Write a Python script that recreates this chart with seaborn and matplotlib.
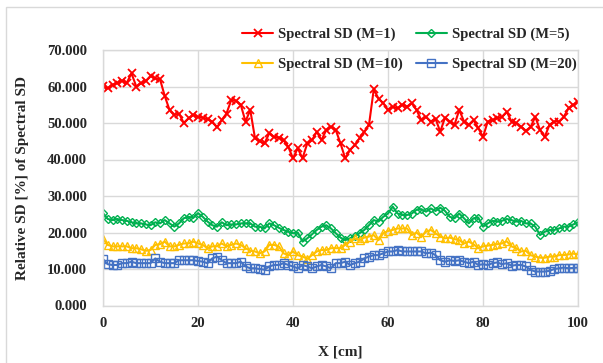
import numpy as np
import pandas as pd
import matplotlib
matplotlib.use("Agg")
import matplotlib.pyplot as plt
import seaborn as sns
from matplotlib.patches import Rectangle

x_cm = list(range(0, 101))

sd_m1 = [60.1, 59.5, 60.5, 60.9, 61.6, 61.0, 63.6, 60.0, 60.9, 61.5,
         62.9, 62.2, 62.0, 57.4, 53.6, 52.2, 52.6, 50.0, 51.3, 52.2,
         51.7, 51.5, 51.0, 50.4, 48.8, 50.8, 52.6, 56.3, 56.1, 55.0,
         50.4, 53.6, 45.8, 45.0, 44.4, 47.2, 46.2, 46.0, 45.3, 43.5,
         40.3, 43.1, 40.3, 44.4, 45.3, 47.6, 45.3, 48.1, 49.0, 48.1,
         44.4, 40.3, 42.6, 44.0, 45.8, 47.6, 49.5, 59.2, 56.7, 55.4,
         53.6, 54.5, 54.0, 55.0, 54.5, 55.4, 53.6, 50.8, 51.7, 50.4,
         51.2, 47.6, 51.5, 50.4, 49.5, 53.6, 50.4, 49.5, 50.8, 48.6,
         46.2, 50.4, 50.8, 51.3, 51.7, 53.1, 50.4, 50.0, 49.0, 47.9,
         48.8, 51.7, 48.1, 46.2, 49.5, 50.4, 50.4, 51.7, 54.0, 55.0,
         55.8]

sd_m5 = [25.3, 23.7, 23.4, 23.7, 23.4, 23.2, 22.8, 22.5, 22.5, 22.2,
         22.0, 22.8, 22.5, 23.4, 22.5, 21.6, 22.5, 23.9, 24.3, 24.0,
         25.3, 24.3, 23.0, 22.0, 21.6, 22.8, 22.0, 22.2, 22.2, 22.5,
         22.5, 22.5, 21.6, 21.6, 21.1, 22.5, 22.0, 21.3, 20.7, 20.2,
         19.8, 20.0, 17.5, 18.4, 19.5, 20.7, 21.6, 22.0, 21.1, 19.8,
         18.6, 17.9, 18.4, 19.1, 19.8, 20.7, 22.0, 23.4, 23.0, 24.3,
         25.2, 27.1, 25.2, 24.8, 24.8, 25.2, 26.2, 26.4, 25.7, 26.6,
         25.9, 26.8, 25.9, 24.3, 23.9, 25.2, 23.9, 22.5, 23.9, 24.1,
         21.6, 22.5, 23.2, 23.0, 23.2, 23.7, 23.4, 23.0, 23.2, 22.5,
         22.5, 21.6, 19.3, 20.2, 20.7, 20.7, 21.1, 21.6, 21.6, 22.2,
         22.8]

sd_m10 = [18.2, 16.6, 16.2, 16.2, 16.2, 16.2, 15.7, 15.7, 15.4, 15.0,
          15.2, 16.6, 16.8, 17.5, 16.2, 16.2, 16.6, 17.0, 17.0, 17.5,
          17.0, 16.6, 15.7, 16.2, 16.2, 17.0, 16.2, 16.6, 17.0, 16.6,
          15.7, 15.0, 14.8, 14.3, 14.8, 16.6, 16.6, 16.2, 14.3, 13.8,
          14.8, 13.8, 13.4, 12.8, 13.8, 14.8, 15.2, 15.2, 15.7, 15.7,
          15.7, 16.6, 17.5, 18.4, 17.9, 18.6, 18.9, 19.3, 17.9, 19.8,
          20.4, 20.7, 21.1, 21.1, 21.1, 19.3, 20.0, 18.9, 20.2, 20.7,
          19.8, 18.9, 18.4, 18.6, 18.2, 17.9, 17.0, 17.5, 16.8, 15.7,
          16.2, 16.4, 16.6, 16.8, 17.0, 17.6, 16.2, 15.7, 14.8, 15.0,
          13.8, 13.4, 13.1, 13.1, 13.4, 13.4, 13.8, 13.8, 14.0, 14.2,
          14.0]

sd_m20 = [12.7, 11.3, 11.1, 11.1, 11.6, 11.6, 12.0, 11.6, 11.6, 11.6,
          11.6, 12.9, 12.0, 11.6, 11.6, 11.6, 12.4, 12.4, 12.4, 12.4,
          12.2, 12.0, 11.6, 12.9, 13.4, 12.4, 11.6, 11.6, 11.6, 12.0,
          10.7, 10.2, 10.2, 10.0, 9.8, 10.7, 11.1, 11.1, 11.6, 11.1,
          10.7, 10.2, 11.1, 10.7, 10.2, 10.7, 11.1, 10.7, 10.2, 11.6,
          11.6, 12.0, 11.1, 11.6, 12.0, 12.9, 13.4, 13.8, 13.8, 14.3,
          14.8, 14.8, 15.2, 14.8, 14.8, 14.8, 14.8, 14.8, 14.3, 14.5,
          13.8, 12.4, 12.0, 12.4, 12.2, 12.4, 12.0, 11.6, 12.0, 11.1,
          11.3, 11.1, 11.6, 11.8, 11.3, 11.6, 10.9, 11.1, 11.1, 10.7,
          9.8, 9.3, 9.3, 9.3, 9.5, 10.0, 10.2, 10.4, 10.2, 10.3,
          10.4]

labels = ["Spectral SD (M=1)", "Spectral SD (M=5)",
          "Spectral SD (M=10)", "Spectral SD (M=20)"]


def main():
    sns.set_style("white")
    plt.rcParams['font.family'] = ['Liberation Serif', 'DejaVu Serif']
    plt.rcParams['font.weight'] = 'bold'

    fig = plt.figure(figsize=(6.03, 3.63), dpi=100)
    ax = fig.add_axes([103 / 603, 1 - 305.5 / 363, 475 / 603, 255.5 / 363])

    # chart border (Excel style)
    fig.patches.append(Rectangle((6 / 603, -0.1), 1.2, 1 - 7 / 363 + 0.1,
                                 transform=fig.transFigure, fill=False,
                                 edgecolor='#D9D9D9', lw=1.0))

    series = [
        (sd_m1, '#FF0000', 'x', 'none', 5.5, 1.3),
        (sd_m5, '#00B050', 'D', 'none', 4.0, 1.0),
        (sd_m10, '#FFC000', '^', 'none', 5.5, 1.0),
        (sd_m20, '#4472C4', 's', 'none', 5.5, 1.0),
    ]
    for (vals, col, mk, mfc, ms, mew), lab in zip(series, labels):
        sns.lineplot(x=x_cm, y=vals, ax=ax, color=col, marker=mk,
                     markerfacecolor=mfc, markeredgecolor=col,
                     markersize=ms, markeredgewidth=mew, lw=1.5, label=lab)

    ax.set_xlim(0, 100)
    ax.set_ylim(0, 70)
    ax.set_xticks(range(0, 101, 20))
    ax.set_yticks(range(0, 71, 10))
    ax.set_yticklabels([f"{v:.3f}" for v in range(0, 71, 10)])
    ax.grid(True, color='#D9D9D9', lw=1.0)
    ax.set_axisbelow(True)
    for sp in ax.spines.values():
        sp.set_color('#D9D9D9')
        sp.set_linewidth(1.0)
    ax.tick_params(length=0, labelsize=10.5)
    ax.tick_params(axis='y', pad=11.5)
    ax.tick_params(axis='x', pad=8)
    for t in ax.get_xticklabels() + ax.get_yticklabels():
        t.set_fontweight('bold')

    ax.set_xlabel("X [cm]", fontsize=11, fontweight='bold')
    ax.set_ylabel("Relative SD [%] of Spectral SD", fontsize=11, fontweight='bold')
    ax.xaxis.set_label_coords(0.5, -0.155)
    ax.yaxis.set_label_coords(-0.155, 0.5)

    handles, labs = ax.get_legend_handles_labels()
    ax.get_legend().remove()
    order = [0, 2, 1, 3]
    fig.legend([handles[i] for i in order], [labs[i] for i in order],
               loc='center', bbox_to_anchor=(409.5 / 603, 1 - 49.5 / 363),
               ncol=2, frameon=False, borderpad=0, handlelength=2.1,
               handletextpad=0.35, columnspacing=0.9, labelspacing=1.15,
               prop={'family': 'Liberation Serif', 'weight': 'bold', 'size': 10.5})

    fig.savefig("out.png", dpi=100)


if __name__ == "__main__":
    main()
